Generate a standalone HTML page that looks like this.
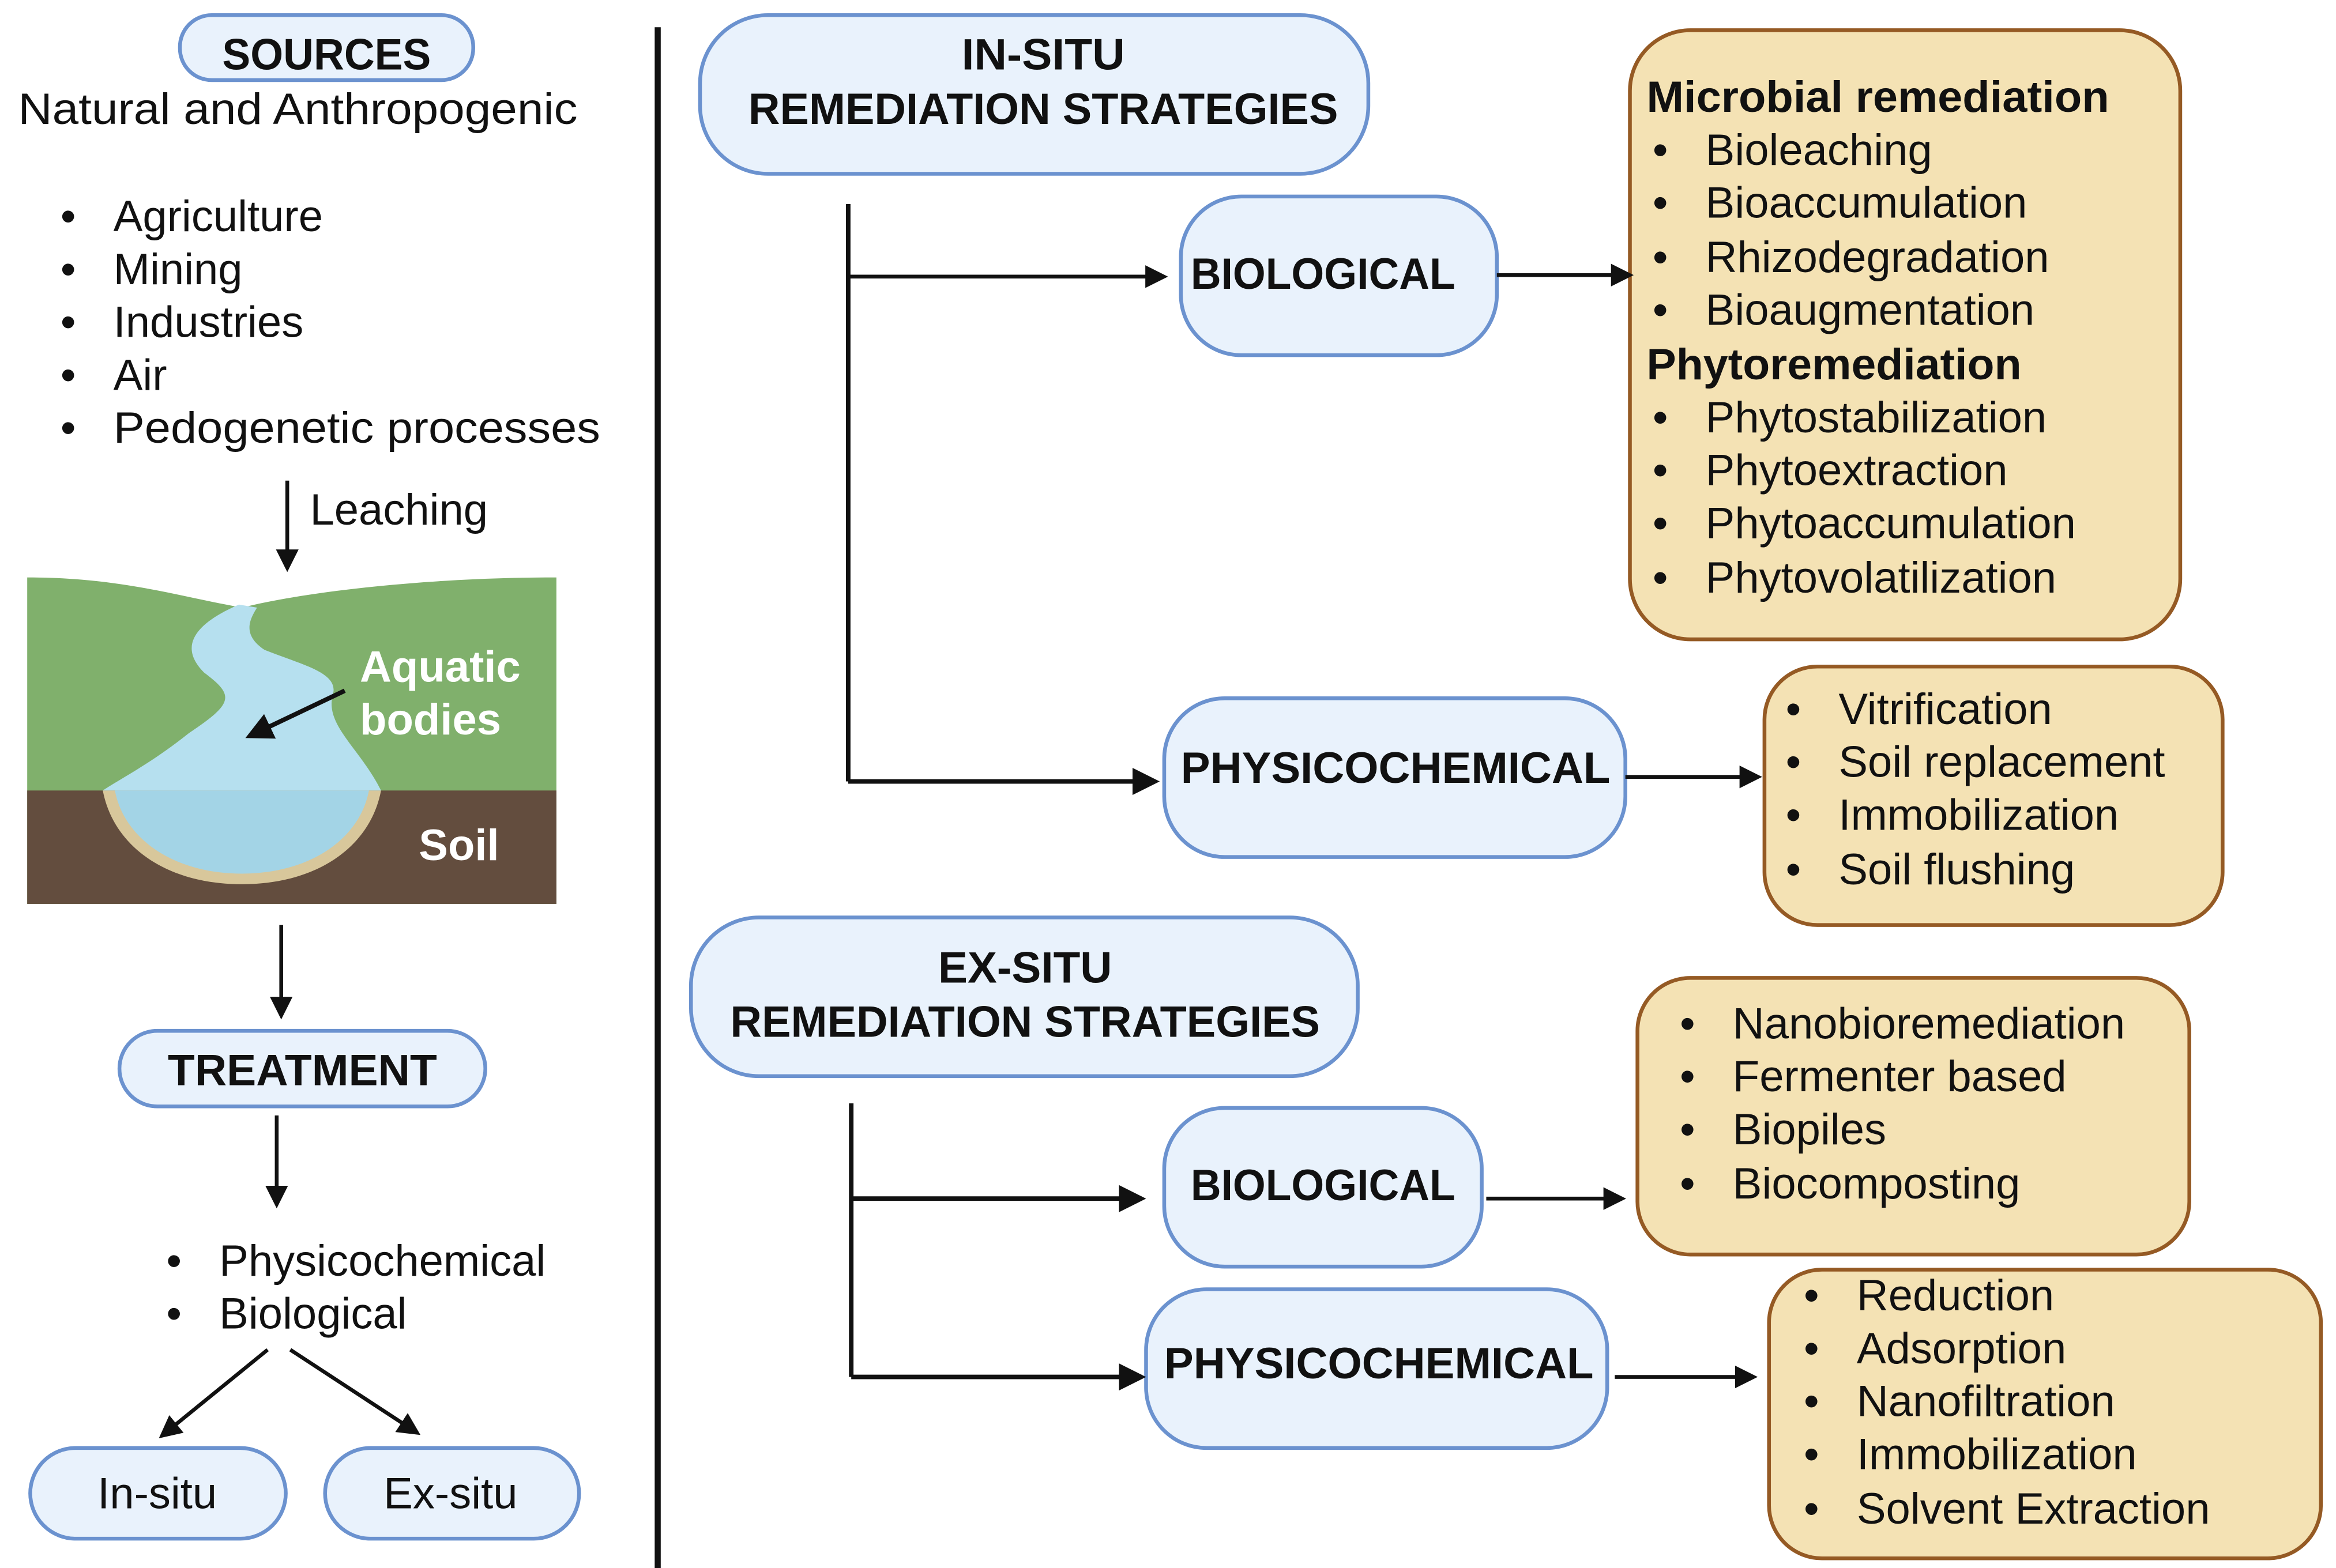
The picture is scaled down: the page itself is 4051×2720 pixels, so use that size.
<!DOCTYPE html>
<html><head><meta charset="utf-8"><style>html,body{margin:0;padding:0;background:#fff}svg{display:block}</style></head>
<body>
<svg width="4051" height="2720" viewBox="0 0 1545 1037.4" preserveAspectRatio="none" xmlns="http://www.w3.org/2000/svg" font-family="'Liberation Sans Narrow','Liberation Sans',sans-serif">
<defs>
<marker id="ah" markerWidth="6" markerHeight="6" refX="5" refY="3" orient="auto" markerUnits="strokeWidth"><path d="M0,0 L6,3 L0,6 z" fill="#111"/></marker>
</defs>
<g fill="#e9f2fc" stroke="#6b92cf" stroke-width="2.5">
<rect x="119" y="10" width="194" height="43" rx="21"/>
<rect x="79" y="682" width="242" height="50" rx="25"/>
<rect x="20" y="958" width="169" height="60" rx="30"/>
<rect x="215" y="958" width="168" height="60" rx="30"/>
<rect x="463" y="10" width="442" height="105" rx="45"/>
<rect x="781" y="130" width="209" height="105" rx="40"/>
<rect x="770" y="462" width="305" height="105" rx="40"/>
<rect x="457" y="607" width="441" height="105" rx="45"/>
<rect x="770" y="733" width="210" height="105" rx="40"/>
<rect x="758" y="853" width="305" height="105" rx="40"/>
</g>
<g fill="#f4e2b4" stroke="#955a24" stroke-width="2.5">
<rect x="1078" y="20" width="364" height="403" rx="40"/>
<rect x="1167" y="441" width="303" height="171" rx="35"/>
<rect x="1083" y="647" width="365" height="183" rx="35"/>
<rect x="1170" y="840" width="365" height="191" rx="35"/>
</g>
<!-- landscape -->
<rect x="18" y="382" width="350" height="216" fill="#80b06c"/>
<path d="M18,382 C80,382 120,395 160,402 C200,392 280,382 368,382 L368,380 L18,380z" fill="#fff"/>
<rect x="18" y="523" width="350" height="75" fill="#634d3e"/>
<path d="M68,523 C75,560 110,585 160,585 C210,585 245,560 252,523z" fill="#d8c79b"/>
<path d="M76,523 C82,555 115,578 160,578 C205,578 238,555 244,523z" fill="#a3d4e6"/>
<path d="M158,400 C135,410 115,425 135,445 C155,460 155,465 125,485 C100,505 80,515 68,523 L252,523 C238,495 215,480 220,460 C225,445 200,440 175,430 C160,420 165,410 170,402z" fill="#b6e0ef"/>
<line x1="228" y1="457" x2="165" y2="487" stroke="#111" stroke-width="3" marker-end="url(#ah)"/>
<g font-weight="bold" fill="#fff" font-size="29"><text x="238" y="451">Aquatic</text><text x="238" y="486">bodies</text><text x="277" y="569">Soil</text></g>
<!-- divider -->
<line x1="435" y1="18" x2="435" y2="1040" stroke="#111" stroke-width="4"/>
<!-- connectors -->
<g stroke="#111" stroke-width="2.5" fill="none">
<line x1="190" y1="318" x2="190" y2="376" marker-end="url(#ah)"/>
<line x1="186" y1="612" x2="186" y2="672" marker-end="url(#ah)"/>
<line x1="183" y1="738" x2="183" y2="797" marker-end="url(#ah)"/>
<line x1="177" y1="893" x2="107" y2="950" marker-end="url(#ah)"/>
<line x1="192" y1="893" x2="276" y2="948" marker-end="url(#ah)"/>
<line x1="561" y1="135" x2="561" y2="517" stroke-width="3"/>
<line x1="561" y1="183" x2="770" y2="183" marker-end="url(#ah)"/>
<line x1="561" y1="517" x2="764" y2="517" stroke-width="3" marker-end="url(#ah)"/>
<line x1="990" y1="182" x2="1078" y2="182" marker-end="url(#ah)"/>
<line x1="1075" y1="514" x2="1163" y2="514" marker-end="url(#ah)"/>
<line x1="563" y1="730" x2="563" y2="911" stroke-width="3"/>
<line x1="563" y1="793" x2="755" y2="793" stroke-width="3" marker-end="url(#ah)"/>
<line x1="563" y1="911" x2="755" y2="911" stroke-width="3" marker-end="url(#ah)"/>
<line x1="983" y1="793" x2="1073" y2="793" marker-end="url(#ah)"/>
<line x1="1068" y1="911" x2="1160" y2="911" marker-end="url(#ah)"/>
</g>
<!-- text -->
<g fill="#111" font-size="29">
<text x="216" y="46" font-weight="bold" text-anchor="middle" textLength="138" lengthAdjust="spacingAndGlyphs">SOURCES</text>
<text x="12" y="82" textLength="370" lengthAdjust="spacingAndGlyphs">Natural and Anthropogenic</text>
<g><text x="40" y="153">•</text><text x="75" y="153">Agriculture</text>
<text x="40" y="188">•</text><text x="75" y="188">Mining</text>
<text x="40" y="223">•</text><text x="75" y="223">Industries</text>
<text x="40" y="258">•</text><text x="75" y="258">Air</text>
<text x="40" y="293">•</text><text x="75" y="293" textLength="322" lengthAdjust="spacingAndGlyphs">Pedogenetic processes</text></g>
<text x="205" y="347">Leaching</text>
<text x="200" y="718" font-weight="bold" text-anchor="middle" textLength="178" lengthAdjust="spacingAndGlyphs">TREATMENT</text>
<text x="110" y="844">•</text><text x="145" y="844">Physicochemical</text>
<text x="110" y="879">•</text><text x="145" y="879">Biological</text>
<text x="104" y="998" text-anchor="middle">In-situ</text>
<text x="298" y="998" text-anchor="middle">Ex-situ</text>
<g font-weight="bold" text-anchor="middle">
<text x="690" y="46" textLength="108" lengthAdjust="spacingAndGlyphs">IN-SITU</text>
<text x="690" y="82" textLength="390" lengthAdjust="spacingAndGlyphs">REMEDIATION STRATEGIES</text>
<text x="875" y="191" textLength="175" lengthAdjust="spacingAndGlyphs">BIOLOGICAL</text>
<text x="923" y="518" textLength="284" lengthAdjust="spacingAndGlyphs">PHYSICOCHEMICAL</text>
<text x="678" y="650" textLength="115" lengthAdjust="spacingAndGlyphs">EX-SITU</text>
<text x="678" y="686" textLength="390" lengthAdjust="spacingAndGlyphs">REMEDIATION STRATEGIES</text>
<text x="875" y="794" textLength="175" lengthAdjust="spacingAndGlyphs">BIOLOGICAL</text>
<text x="912" y="912" textLength="284" lengthAdjust="spacingAndGlyphs">PHYSICOCHEMICAL</text>
</g>
<text x="1089" y="74" font-weight="bold" textLength="306" lengthAdjust="spacingAndGlyphs">Microbial remediation</text>
<text x="1093" y="109">•</text><text x="1128" y="109">Bioleaching</text>
<text x="1093" y="144">•</text><text x="1128" y="144">Bioaccumulation</text>
<text x="1093" y="180">•</text><text x="1128" y="180">Rhizodegradation</text>
<text x="1093" y="215">•</text><text x="1128" y="215">Bioaugmentation</text>
<text x="1089" y="251" font-weight="bold" textLength="248" lengthAdjust="spacingAndGlyphs">Phytoremediation</text>
<text x="1093" y="286">•</text><text x="1128" y="286">Phytostabilization</text>
<text x="1093" y="321">•</text><text x="1128" y="321">Phytoextraction</text>
<text x="1093" y="356">•</text><text x="1128" y="356">Phytoaccumulation</text>
<text x="1093" y="392">•</text><text x="1128" y="392">Phytovolatilization</text>
<text x="1181" y="479">•</text><text x="1216" y="479">Vitrification</text>
<text x="1181" y="514">•</text><text x="1216" y="514">Soil replacement</text>
<text x="1181" y="549">•</text><text x="1216" y="549">Immobilization</text>
<text x="1181" y="585">•</text><text x="1216" y="585">Soil flushing</text>
<text x="1111" y="687">•</text><text x="1146" y="687">Nanobioremediation</text>
<text x="1111" y="722">•</text><text x="1146" y="722">Fermenter based</text>
<text x="1111" y="757">•</text><text x="1146" y="757">Biopiles</text>
<text x="1111" y="793">•</text><text x="1146" y="793">Biocomposting</text>
<text x="1193" y="867">•</text><text x="1228" y="867">Reduction</text>
<text x="1193" y="902">•</text><text x="1228" y="902">Adsorption</text>
<text x="1193" y="937">•</text><text x="1228" y="937">Nanofiltration</text>
<text x="1193" y="972">•</text><text x="1228" y="972">Immobilization</text>
<text x="1193" y="1008">•</text><text x="1228" y="1008">Solvent Extraction</text>
</g>
</svg>
</body></html>
